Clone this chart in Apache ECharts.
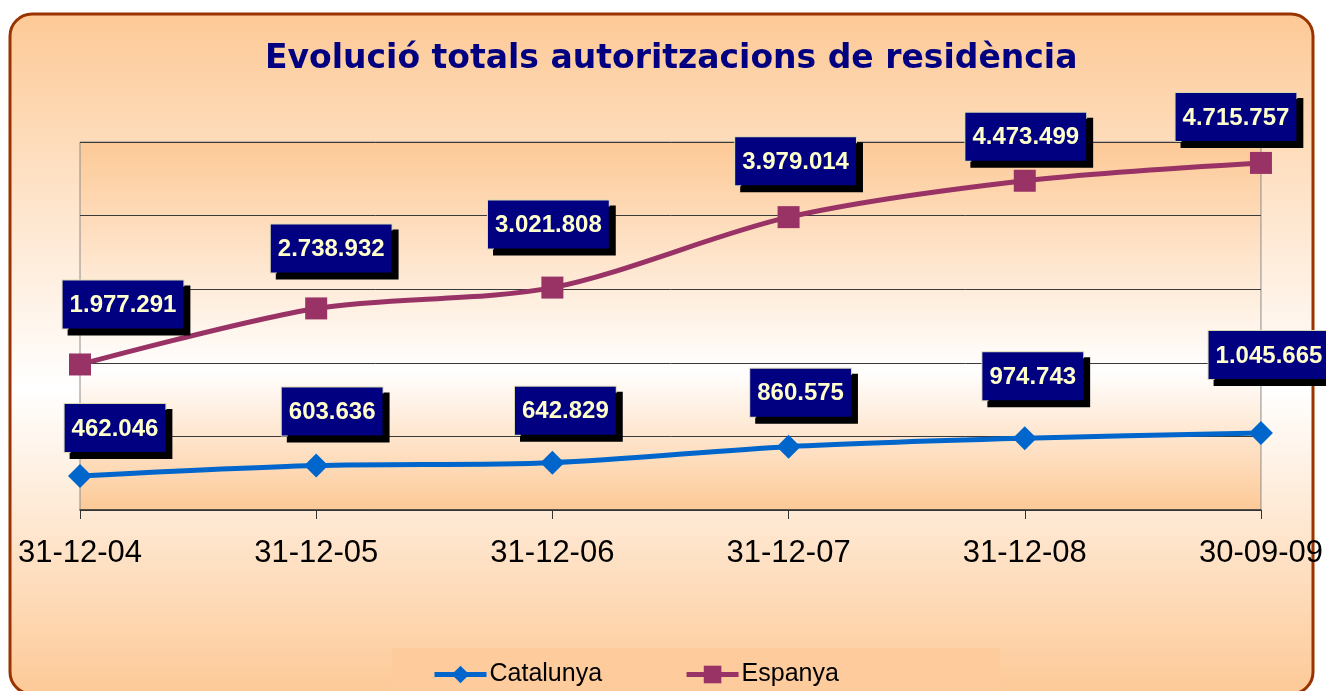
<!DOCTYPE html>
<html>
<head>
<meta charset="utf-8">
<script src="https://cdn.jsdelivr.net/npm/echarts@6/dist/echarts.min.js"></script>
<style>
  html, body { margin: 0; padding: 0; background: #fff; }
  #chart { width: 1326px; height: 691px; }
</style>
</head>
<body>
<div id="chart"></div>
<script>
const categories = ['31-12-04', '31-12-05', '31-12-06', '31-12-07', '31-12-08', '30-09-09'];
const catalunya = [462046, 603636, 642829, 860575, 974743, 1045665];
const espanya = [1977291, 2738932, 3021808, 3979014, 4473499, 4715757];

// Excel placed the data labels by hand, so nudge each one
const catalunyaLabelShift = [[35, -12], [16, -18], [13, -16], [12, -18], [8, -26], [8, -42]];
const espanyaLabelShift = [[43, -25], [15, -25], [-4, -28], [7, -21], [1, -9], [-25, -11]];

const fmt = (v) => String(v).replace(/\B(?=(\d{3})+(?!\d))/g, '.');

const orangeFade = (mid) => new echarts.graphic.LinearGradient(0, 0, 0, 1, [
  { offset: 0, color: '#FDC996' },
  { offset: mid, color: '#FFFFFF' },
  { offset: 1, color: '#FDC996' }
]);

const labelBox = {
  show: true,
  position: 'top',
  distance: 0,
  formatter: (p) => fmt(p.value),
  color: '#FFFFCC',
  fontFamily: 'Arial, "Liberation Sans", sans-serif',
  fontWeight: 'bold',
  fontSize: 24,
  lineHeight: 24,
  backgroundColor: '#000080',
  borderColor: '#D8D8B0',
  borderWidth: 1,
  padding: [13, 7, 11, 7],
  shadowColor: '#000',
  shadowBlur: 0,
  shadowOffsetX: 6,
  shadowOffsetY: 6
};

const withLabels = (values, shifts) => values.map((v, i) => ({
  value: v,
  label: { offset: shifts[i] }
}));

const chart = echarts.init(document.getElementById('chart'));

chart.setOption({
  animation: false,
  graphic: [
    {
      type: 'rect',
      z: -10,
      shape: { x: 10, y: 14, width: 1303, height: 680, r: 22 },
      style: { fill: orangeFade(0.55), stroke: '#993300', lineWidth: 3 }
    },
    {
      type: 'rect',
      z: -9,
      shape: { x: 392, y: 648, width: 608, height: 42 },
      style: { fill: '#FDCB9C' }
    }
  ],
  title: {
    text: 'Evolució totals autoritzacions de residència',
    left: 260,
    top: 38,
    textStyle: {
      color: '#000080',
      fontFamily: '"DejaVu Sans", Verdana, sans-serif',
      fontWeight: 'bold',
      fontSize: 33
    }
  },
  legend: {
    left: 432,
    top: 662,
    padding: 0,
    itemWidth: 52,
    itemHeight: 22,
    itemGap: 82,
    lineStyle: { width: 5 },
    textStyle: {
      color: '#000',
      fontFamily: 'Arial, "Liberation Sans", sans-serif',
      fontSize: 25,
      padding: [0, 0, 0, -2]
    },
    data: ['Catalunya', 'Espanya']
  },
  grid: {
    left: 80,
    right: 63,
    top: 142,
    bottom: 181,
    show: true,
    backgroundColor: orangeFade(0.62),
    borderColor: '#8C8C8C',
    borderWidth: 1
  },
  xAxis: {
    type: 'category',
    boundaryGap: false,
    data: categories,
    axisLine: { lineStyle: { color: '#333', width: 1.5 } },
    axisTick: { length: 9, lineStyle: { color: '#333' } },
    axisLabel: {
      margin: 28,
      color: '#000',
      fontFamily: 'Arial, "Liberation Sans", sans-serif',
      fontSize: 31
    }
  },
  yAxis: {
    type: 'value',
    min: 0,
    max: 5000000,
    interval: 1000000,
    axisLabel: { show: false },
    axisLine: { show: false },
    axisTick: { show: false },
    splitLine: { lineStyle: { color: '#3a3a3a', width: 1 } }
  },
  series: [
    {
      name: 'Catalunya',
      type: 'line',
      smooth: 0.3,
      symbol: 'diamond',
      symbolSize: 24,
      color: '#0066CC',
      lineStyle: { width: 5, color: '#0066CC' },
      label: labelBox,
      data: withLabels(catalunya, catalunyaLabelShift)
    },
    {
      name: 'Espanya',
      type: 'line',
      smooth: 0.3,
      symbol: 'rect',
      symbolSize: 22,
      color: '#993366',
      lineStyle: { width: 5, color: '#993366' },
      label: labelBox,
      data: withLabels(espanya, espanyaLabelShift)
    }
  ]
});
</script>
</body>
</html>
